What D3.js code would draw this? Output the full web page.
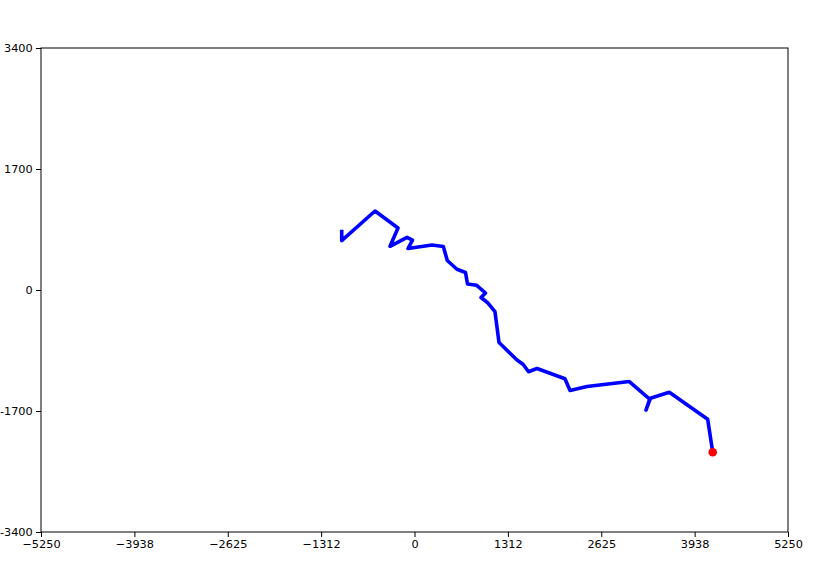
<!DOCTYPE html>
<html lang="en">
<head>
    <meta charset="UTF-8">
    <script src="https://d3js.org/d3.v7.min.js"></script>
    <title>Track</title>
    <style>
        body { margin: 0; background: #fff; }
        svg text { font: 11.3px "DejaVu Sans", sans-serif; fill: #000; }
    </style>
</head>
<body>
    <div id="chart"></div>
    <script>
        // track points (last one is the red marker)
        var trackX = [-1023, -1023, -555, -232, -344, -105, -28, -91, 246, 405, 461, 597, 717, 745,
                      874, 998, 935, 1033, 1131, 1188, 1441, 1529, 1602, 1722, 2115, 2186, 2425,
                      3019, 3306, 3254, 3316, 3581, 4121, 4192];
        var trackY = [822, 693, 1110, 871, 614, 740, 702, 583, 632, 611, 414, 291, 246, 84,
                      66, -42, -105, -183, -305, -738, -984, -1047, -1148, -1103, -1246, -1412, -1356,
                      -1286, -1532, -1686, -1522, -1437, -1817, -2280];

        var xTicks = [-5250, -3937.5, -2625, -1312.5, 0, 1312.5, 2625, 3937.5, 5250];
        var xTickLabels = ["\u22125250", "\u22123938", "\u22122625", "\u22121312", "0", "1312", "2625", "3938", "5250"];
        var yTicks = [-3400, -1700, 0, 1700, 3400];
        var yTickLabels = ["-3400", "-1700", "0", "1700", "3400"];

        var width = 830, height = 581,
            margin = { top: 48, right: 42, bottom: 49, left: 41 };

        var svg = d3.select("#chart").append("svg")
            .attr("width", width)
            .attr("height", height);

        var x = d3.scaleLinear().domain([-5250, 5250]).range([margin.left, width - margin.right]);
        var y = d3.scaleLinear().domain([-3400, 3400]).range([height - margin.bottom, margin.top]);

        var points = trackX.map(function (d, i) { return [d, trackY[i]]; });

        // the track
        var line = d3.line()
            .x(function (d) { return x(d[0]); })
            .y(function (d) { return y(d[1]); });

        svg.append("path")
            .datum(points)
            .attr("d", line)
            .attr("fill", "none")
            .attr("stroke", "#0000ff")
            .attr("stroke-width", 3.6)
            .attr("stroke-linejoin", "round")
            .attr("stroke-linecap", "square");

        // current position
        var last = points[points.length - 1];
        svg.append("circle")
            .attr("cx", x(last[0]))
            .attr("cy", y(last[1]))
            .attr("r", 4.3)
            .attr("fill", "#ff0000");

        // frame
        svg.append("rect")
            .attr("x", x(-5250))
            .attr("y", y(3400))
            .attr("width", x(5250) - x(-5250))
            .attr("height", y(-3400) - y(3400))
            .attr("fill", "none")
            .attr("stroke", "#000")
            .attr("stroke-width", 1);

        // axes
        var xAxis = d3.axisBottom(x)
            .tickValues(xTicks)
            .tickFormat(function (d, i) { return xTickLabels[i]; })
            .tickSize(5)
            .tickSizeOuter(0);

        var yAxis = d3.axisLeft(y)
            .tickValues(yTicks)
            .tickFormat(function (d, i) { return yTickLabels[i]; })
            .tickSize(5)
            .tickSizeOuter(0);

        var gx = svg.append("g")
            .attr("transform", "translate(0," + y(-3400) + ")")
            .call(xAxis);
        var gy = svg.append("g")
            .attr("transform", "translate(" + x(-5250) + ",0)")
            .call(yAxis);

        [gx, gy].forEach(function (g) {
            g.select(".domain").remove();
            g.selectAll("line").attr("stroke", "#000");
            g.selectAll("text").attr("fill", "#000").style("font-size", "11.3px")
                .style("font-family", "'DejaVu Sans', sans-serif");
        });
        gx.selectAll("text").attr("dy", "0.71em").attr("y", 8.3);
        gy.selectAll("text").attr("x", -8.3);
    </script>
</body>
</html>
